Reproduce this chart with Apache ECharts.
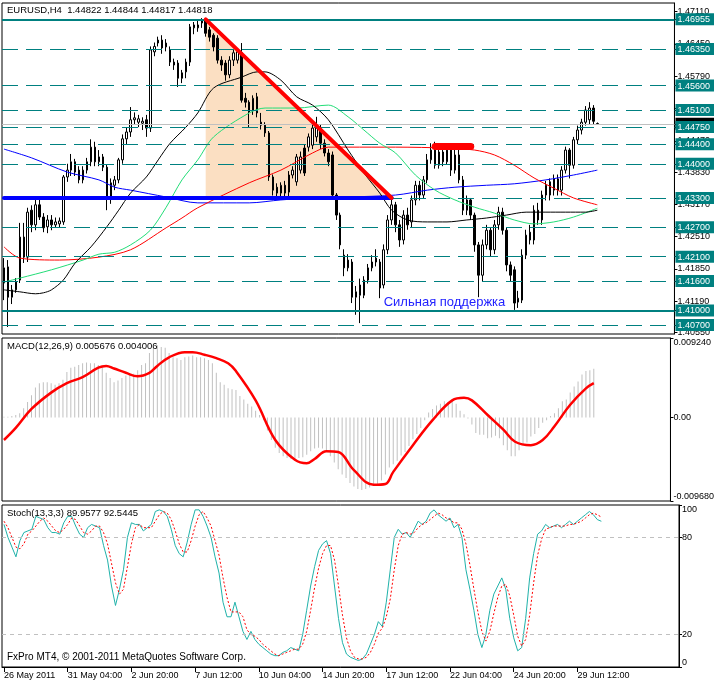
<!DOCTYPE html>
<html><head><meta charset="utf-8">
<script src="https://cdn.jsdelivr.net/npm/echarts@6/dist/echarts.min.js"></script>
<style>html,body{margin:0;padding:0;background:#fff}#c{width:717px;height:684px}</style>
</head><body><div id="c"></div>
<script>
const FONT = 'Liberation Sans';
const headerText = 'EURUSD,H4  1.44822 1.44844 1.44817 1.44818';
const macdText = 'MACD(12,26,9) 0.005676 0.004006';
const stochText = 'Stoch(13,3,3) 89.9577 92.5445';
const copyText = 'FxPro MT4, \u00a9 2001-2011 MetaQuotes Software Corp.';
const supportText = 'Сильная поддержка';

const barCount = 170;
const timeTickIdx = [0,16,32,48,64,80,96,112,128,144];
const timeTickLabels = ['26 May 2011','31 May 04:00','2 Jun 20:00','7 Jun 12:00','10 Jun 04:00','14 Jun 20:00','17 Jun 12:00','22 Jun 04:00','24 Jun 20:00','29 Jun 12:00'];

const priceMin = 1.40517, priceMax = 1.47289;
const priceTicks = [1.4711,1.4645,1.4579,1.4513,1.4447,1.4383,1.4317,1.4251,1.4185,1.4119,1.4055];
const levelsSolid = [1.46955, 1.41000];
const levelsDashed = [1.46350,1.45600,1.45100,1.44750,1.44400,1.44000,1.43300,1.42700,1.42100,1.41600,1.40700];
const bidPrice = 1.44818;
const levelLabelOrder = [1.46955,1.46350,1.45600,1.45100,1.44818,1.44750,1.44400,1.44000,1.43300,1.42700,1.42100,1.41600,1.41000,1.40700];

const macdMin = -0.00968, macdMax = 0.00924;
const macdTicks = [-0.00968, 0, 0.00924];
const macdTickLabels = ['-0.009680','0.00','0.009240'];
const stochTicks = [0,20,80,100];
const stochLevels = [20,80];

// [open, close, low, high]
const candles = [
[1.4156,1.4187,1.4121,1.4207],[1.4189,1.4127,1.4066,1.4203],[1.4127,1.4142,1.4113,1.4152],[1.4142,1.4158,1.4136,1.4166],
[1.4162,1.4250,1.4156,1.4279],[1.4250,1.4209,1.4197,1.4279],[1.4209,1.4301,1.4199,1.4310],[1.4305,1.4275,1.4260,1.4315],
[1.4275,1.4316,1.4264,1.4326],[1.4316,1.4291,1.4285,1.4330],[1.4291,1.4269,1.4260,1.4299],[1.4271,1.4285,1.4258,1.4295],
[1.4285,1.4275,1.4264,1.4295],[1.4275,1.4281,1.4269,1.4290],[1.4277,1.4283,1.4270,1.4290],[1.4281,1.4373,1.4275,1.4377],
[1.4373,1.4387,1.4363,1.4400],[1.4387,1.4404,1.4375,1.4420],[1.4404,1.4383,1.4375,1.4410],[1.4387,1.4367,1.4360,1.4395],
[1.4367,1.4387,1.4360,1.4395],[1.4387,1.4404,1.4380,1.4412],[1.4404,1.4434,1.4395,1.4450],[1.4434,1.4404,1.4395,1.4445],
[1.4404,1.4414,1.4395,1.4428],[1.4414,1.4393,1.4385,1.4420],[1.4393,1.4328,1.4305,1.4398],[1.4328,1.4361,1.4318,1.4370],
[1.4356,1.4367,1.4346,1.4375],[1.4367,1.4408,1.4360,1.4412],[1.4408,1.4451,1.4400,1.4460],[1.4451,1.4465,1.4440,1.4475],
[1.4465,1.4490,1.4455,1.4516],[1.4490,1.4494,1.4480,1.4505],[1.4485,1.4492,1.4475,1.4500],[1.4483,1.4487,1.4469,1.4495],
[1.4490,1.4473,1.4455,1.4500],[1.4473,1.4633,1.4465,1.4640],[1.4629,1.4640,1.4620,1.4648],[1.4653,1.4647,1.4640,1.4660],
[1.4653,1.4637,1.4625,1.4663],[1.4639,1.4647,1.4630,1.4655],[1.4633,1.4608,1.4600,1.4640],[1.4608,1.4602,1.4592,1.4615],
[1.4606,1.4575,1.4557,1.4612],[1.4586,1.4575,1.4565,1.4592],[1.4588,1.4608,1.4575,1.4615],[1.4608,1.4680,1.4600,1.4686],
[1.4678,1.4684,1.4665,1.4690],[1.4678,1.4684,1.4670,1.4694],[1.4688,1.4694,1.4678,1.4698],[1.4694,1.4667,1.4660,1.4698],
[1.4674,1.4659,1.4650,1.4680],[1.4663,1.4639,1.4630,1.4667],[1.4657,1.4612,1.4605,1.4663],[1.4612,1.4602,1.4590,1.4620],
[1.4606,1.4582,1.4570,1.4612],[1.4582,1.4612,1.4575,1.4620],[1.4612,1.4627,1.4600,1.4633],[1.4612,1.4629,1.4605,1.4635],
[1.4627,1.4530,1.4525,1.4647],[1.4534,1.4526,1.4515,1.4545],[1.4526,1.4506,1.4475,1.4530],[1.4510,1.4534,1.4500,1.4540],
[1.4537,1.4504,1.4495,1.4545],[1.4485,1.4479,1.4470,1.4504],[1.4479,1.4463,1.4455,1.4485],[1.4463,1.4373,1.4365,1.4467],
[1.4373,1.4346,1.4335,1.4378],[1.4352,1.4340,1.4328,1.4360],[1.4340,1.4356,1.4330,1.4362],[1.4356,1.4340,1.4328,1.4365],
[1.4342,1.4377,1.4330,1.4385],[1.4377,1.4387,1.4370,1.4395],[1.4363,1.4414,1.4355,1.4420],[1.4387,1.4414,1.4380,1.4425],
[1.4432,1.4381,1.4375,1.4440],[1.4434,1.4455,1.4425,1.4462],[1.4438,1.4473,1.4430,1.4480],[1.4455,1.4473,1.4445,1.4496],
[1.4469,1.4442,1.4430,1.4480],[1.4442,1.4422,1.4415,1.4450],[1.4422,1.4404,1.4395,1.4430],[1.4418,1.4336,1.4330,1.4425],
[1.4336,1.4295,1.4285,1.4340],[1.4295,1.4234,1.4225,1.4300],[1.4213,1.4187,1.4170,1.4225],[1.4187,1.4203,1.4180,1.4215],
[1.4199,1.4127,1.4115,1.4205],[1.4127,1.4138,1.4091,1.4150],[1.4131,1.4152,1.4074,1.4165],[1.4131,1.4162,1.4125,1.4170],
[1.4162,1.4187,1.4155,1.4195],[1.4187,1.4199,1.4180,1.4213],[1.4199,1.4207,1.4190,1.4225],[1.4199,1.4146,1.4125,1.4205],
[1.4152,1.4224,1.4145,1.4235],[1.4224,1.4285,1.4215,1.4295],[1.4285,1.4316,1.4275,1.4326],[1.4316,1.4275,1.4260,1.4322],
[1.4275,1.4244,1.4230,1.4285],[1.4244,1.4295,1.4235,1.4305],[1.4295,1.4275,1.4265,1.4310],[1.4281,1.4326,1.4270,1.4335],
[1.4326,1.4356,1.4315,1.4365],[1.4356,1.4336,1.4325,1.4365],[1.4336,1.4367,1.4330,1.4375],[1.4367,1.4408,1.4360,1.4420],
[1.4408,1.4428,1.4400,1.4442],[1.4428,1.4397,1.4390,1.4445],[1.4397,1.4424,1.4390,1.4440],[1.4424,1.4404,1.4395,1.4442],
[1.4404,1.4428,1.4398,1.4440],[1.4428,1.4387,1.4375,1.4442],[1.4387,1.4418,1.4380,1.4440],[1.4418,1.4367,1.4360,1.4440],
[1.4367,1.4305,1.4295,1.4375],[1.4305,1.4326,1.4295,1.4335],[1.4326,1.4295,1.4285,1.4330],[1.4295,1.4234,1.4220,1.4300],
[1.4234,1.4172,1.4127,1.4240],[1.4172,1.4234,1.4160,1.4245],[1.4234,1.4264,1.4225,1.4275],[1.4264,1.4224,1.4210,1.4270],
[1.4224,1.4275,1.4215,1.4285],[1.4275,1.4301,1.4265,1.4312],[1.4301,1.4264,1.4255,1.4310],[1.4264,1.4193,1.4180,1.4270],
[1.4193,1.4172,1.4160,1.4200],[1.4183,1.4115,1.4101,1.4190],[1.4117,1.4125,1.4105,1.4140],[1.4121,1.4213,1.4115,1.4225],
[1.4213,1.4254,1.4205,1.4265],[1.4260,1.4244,1.4235,1.4275],[1.4244,1.4305,1.4235,1.4315],[1.4305,1.4285,1.4275,1.4320],
[1.4285,1.4336,1.4275,1.4345],[1.4336,1.4356,1.4325,1.4365],[1.4363,1.4336,1.4325,1.4370],[1.4346,1.4369,1.4335,1.4378],
[1.4369,1.4346,1.4335,1.4378],[1.4346,1.4387,1.4335,1.4395],[1.4387,1.4428,1.4380,1.4435],[1.4428,1.4397,1.4370,1.4432],
[1.4397,1.4449,1.4390,1.4455],[1.4449,1.4469,1.4440,1.4478],[1.4469,1.4485,1.4460,1.4492],[1.4485,1.4510,1.4478,1.4518],
[1.4490,1.4514,1.4480,1.4526],[1.4514,1.4487,1.4480,1.4520],[1.44822,1.44818,1.44817,1.44844]
];

const maBlack = [[0,1.4142],[4,1.4138],[8,1.4134],[10,1.4136],[12,1.4142],[15,1.4162],[18,1.4197],[22,1.4230],[26,1.4271],[29,1.4305],[32,1.4340],[36,1.4373],[39,1.4408],[42,1.4442],[46,1.4475],[49,1.4504],[53,1.4555],[60,1.4577],[64,1.4588],[66,1.4588],[70,1.4571],[74,1.4537],[78,1.4520],[82,1.4490],[87,1.4428],[91,1.4381],[95,1.4340],[98,1.4305],[102,1.4285],[107,1.4281],[112,1.4281],[117,1.4285],[122,1.4289],[127,1.4295],[132,1.4301],[137,1.4301],[142,1.4301],[147,1.4301],[150,1.4305]];
const maGreen = [[0,1.4158],[4,1.4166],[12,1.4183],[20,1.4203],[24,1.4215],[28,1.4219],[32,1.4234],[37,1.4264],[41,1.4311],[45,1.4367],[49,1.4408],[53,1.4455],[62,1.4504],[66,1.4514],[74,1.4514],[82,1.4520],[87,1.4496],[91,1.4469],[95,1.4442],[99,1.4422],[104,1.4377],[109,1.4346],[114,1.4326],[119,1.4311],[124,1.4299],[129,1.4285],[134,1.4277],[139,1.4281],[144,1.4291],[150,1.4309]];
const maRed = [[0,1.4230],[4,1.4207],[14,1.4203],[24,1.4209],[32,1.4224],[41,1.4269],[45,1.4289],[49,1.4310],[62,1.4361],[70,1.4387],[78,1.4422],[82,1.4434],[87,1.4434],[99,1.4434],[112,1.4432],[119,1.4428],[124,1.4418],[129,1.4397],[134,1.4371],[139,1.4350],[144,1.4330],[150,1.4316]];
const maBlue = [[0,1.4430],[7,1.4412],[16,1.4383],[24,1.4367],[28,1.4352],[32,1.4346],[41,1.4332],[49,1.4320],[62,1.4320],[70,1.4326],[78,1.4330],[87,1.4332],[99,1.4336],[107,1.4346],[114,1.4352],[122,1.4356],[129,1.4359],[137,1.4367],[144,1.4377],[150,1.4387]];

// drawn objects (bar index, price)
const triangleIdx = [51, 98];
const triangleTop = 1.46955, triangleBase = 1.4330;
const trendRed = [[51,1.46955],[98,1.4330]];
const trendBlue = [[0,1.4330],[98,1.4330]];
const zoneRed = [[109,1.4436],[118,1.4436]];
const supportAnchor = [96, 1.4117];

const macdMain = [
0.0001,0.0001,0.0002,0.0003,0.0005,0.0011,0.0018,0.0026,0.0035,0.0040,
0.0041,0.0041,0.0040,0.0038,0.0040,0.0044,0.0053,0.0058,0.0059,0.0061,
0.0063,0.0064,0.0063,0.0063,0.0061,0.0059,0.0052,0.0046,0.0041,0.0043,
0.0046,0.0049,0.0051,0.0051,0.0055,0.0061,0.0063,0.0075,0.0082,0.0084,
0.0082,0.0081,0.0075,0.0070,0.0069,0.0067,0.0070,0.0071,0.0072,0.0070,
0.0070,0.0069,0.0067,0.0063,0.0052,0.0041,0.0038,0.0034,0.0033,0.0032,
0.0025,0.0021,0.0016,0.0013,0.0008,0.0003,-0.0003,-0.0015,-0.0026,-0.0035,
-0.0041,-0.0045,-0.0047,-0.0048,-0.0049,-0.0047,-0.0046,-0.0043,-0.0039,-0.0036,
-0.0035,-0.0036,-0.0038,-0.0045,-0.0052,-0.0060,-0.0066,-0.0070,-0.0076,-0.0080,
-0.0083,-0.0084,-0.0083,-0.0081,-0.0078,-0.0077,-0.0073,-0.0066,-0.0058,-0.0054,
-0.0050,-0.0044,-0.0040,-0.0033,-0.0025,-0.0019,-0.0012,-0.0003,0.0006,0.0010,
0.0014,0.0016,0.0019,0.0018,0.0020,0.0016,0.0008,0.0004,-0.0001,-0.0008,
-0.0018,-0.0020,-0.0020,-0.0024,-0.0023,-0.0021,-0.0024,-0.0032,-0.0038,-0.0045,
-0.0045,-0.0038,-0.0032,-0.0029,-0.0022,-0.0019,-0.0012,-0.0006,-0.0003,0.0002,
0.0005,0.0011,0.0019,0.0021,0.0029,0.0036,0.0042,0.0050,0.0054,0.0055,
0.005676];
const macdSignal = [[0,-0.0026],[3,-0.0012],[7,0.0010],[12,0.0029],[16,0.0040],[20,0.0047],[24,0.0058],[26,0.0060],[28,0.0057],[31,0.0052],[34,0.0048],[37,0.0052],[39,0.0060],[42,0.0070],[46,0.0076],[48,0.0076],[51,0.0073],[54,0.0069],[57,0.0063],[59,0.0054],[64,0.0020],[69,-0.0026],[74,-0.0049],[77,-0.0053],[79,-0.0048],[82,-0.0039],[85,-0.0040],[89,-0.0061],[94,-0.0078],[97,-0.0077],[99,-0.0063],[104,-0.0032],[109,-0.0003],[114,0.0020],[117,0.0023],[119,0.0020],[123,0.0003],[127,-0.0014],[130,-0.0028],[134,-0.0032],[137,-0.0026],[140,-0.0010],[144,0.0015],[148,0.0034],[150,0.004006]];

const stochK = [
88,80,74,68,78,83,84,85,93,92,
91,86,83,83,82,89,93,93,87,82,
80,86,88,87,86,75,66,50,38,48,
60,80,89,88,88,84,86,88,96,97,
96,93,85,75,70,68,77,88,97,97,
93,87,80,68,58,40,31,31,40,31,
22,17,22,17,14,12,10,8,7,7,
9,10,12,11,10,20,35,50,62,72,
76,78,70,50,30,15,8,6,5,4,
5,8,14,20,28,25,40,60,80,85,
82,83,80,85,90,88,90,95,97,94,
92,90,92,86,88,80,60,48,35,20,
12,20,35,45,50,55,48,30,18,10,
12,30,55,70,82,84,88,86,87,88,
86,88,90,88,90,92,94,96,94,91,
89.9577];
const stochD = [
90,86,80,74,73,76,82,84,87,90,
92,90,87,84,83,85,88,92,91,87,
83,82,84,87,87,83,76,64,52,45,
48,62,76,86,88,86,86,86,90,94,
96,95,91,84,76,71,71,78,87,94,
96,92,87,78,69,55,43,34,34,34,
31,23,20,19,17,14,12,10,8,7,
8,9,10,11,11,14,22,35,49,61,
70,75,75,66,50,32,18,10,6,5,
5,6,9,14,21,24,31,42,60,75,
82,83,82,83,86,88,89,91,93,95,
94,92,91,89,89,85,76,63,48,34,
22,16,22,33,43,50,51,44,32,19,
13,17,32,52,69,79,85,86,87,87,
87,87,88,88,89,90,92,94,95,94,
92.5445];

const categories = Array.from({length: barCount}, (_, i) => String(i));
const TEAL = '#008080';

const chart = echarts.init(document.getElementById('c'), null, {renderer: 'canvas'});

const lbl = {fontFamily: FONT, fontSize: 9, color: '#000'};
function levelItem(v, solid) {
  return {yAxis: v, label: {show: false},
    lineStyle: {color: TEAL, width: solid ? 2 : 1, type: solid ? 'solid' : [16, 8]}};
}
const segStyle = (color, width) => ({color, width, type: 'solid', cap: 'round'});
function seg(pts, color, width) {
  return [{coord: pts[0], lineStyle: segStyle(color, width), label: {show: false}},
          {coord: pts[1], lineStyle: segStyle(color, width), label: {show: false}}];
}

const markData = [];
markData.push({yAxis: bidPrice, label: {show: false}, lineStyle: {color: '#C0C0C0', width: 1, type: 'solid'}});
levelsSolid.forEach(v => markData.push(levelItem(v, true)));
levelsDashed.forEach(v => markData.push(levelItem(v, false)));
markData.push(seg(trendBlue, '#0000FF', 4));
markData.push(seg(trendRed, '#FF0000', 4));
markData.push(seg(zoneRed, '#FF0000', 7));

function xAxisFor(g) {
  const last = g === 2;
  return {type: 'category', gridIndex: g, data: categories, boundaryGap: true,
    axisLine: {show: last, lineStyle: {color: '#000'}},
    axisTick: {show: last, alignWithLabel: true, length: 5, interval: (i) => timeTickIdx.includes(i), lineStyle: {color: '#000'}},
    axisLabel: {show: last, interval: (i) => timeTickIdx.includes(i), align: 'left', margin: 4,
      formatter: (v, i) => { const k = timeTickIdx.indexOf(Number(v)); return k >= 0 ? timeTickLabels[k] : ''; }, ...lbl},
    splitLine: {show: false}};
}
const boxRich = {
  t: {backgroundColor: TEAL, color: '#fff', padding: [2, 4, 1, 2], fontFamily: FONT, fontSize: 9},
  b: {backgroundColor: '#000', color: '#fff', padding: [2, 4, 1, 2], fontFamily: FONT, fontSize: 9}
};

const option = {
  animation: false,
  backgroundColor: '#fff',
  grid: [
    {left: 2, top: 3, width: 677, height: 331, show: true, borderColor: '#000', borderWidth: 1},
    {left: 2, top: 338, width: 677, height: 163, show: true, borderColor: '#000', borderWidth: 1},
    {left: 2, top: 505, width: 677, height: 162, show: true, borderColor: '#000', borderWidth: 1}
  ],
  xAxis: [xAxisFor(0), xAxisFor(1), xAxisFor(2)],
  yAxis: [
    {type: 'value', gridIndex: 0, position: 'right', min: priceMin, max: priceMax,
      axisLine: {show: true, lineStyle: {color: '#000'}},
      axisTick: {show: true, length: 3, customValues: priceTicks, lineStyle: {color: '#000'}},
      axisLabel: {customValues: priceTicks, formatter: v => v.toFixed(5), margin: 3, ...lbl},
      splitLine: {show: false}},
    {type: 'value', gridIndex: 1, position: 'right', min: macdMin, max: macdMax,
      axisLine: {show: true, lineStyle: {color: '#000'}},
      axisTick: {show: true, length: 3, customValues: macdTicks, lineStyle: {color: '#000'}},
      axisLabel: {customValues: macdTicks, margin: 3, verticalAlignMaxLabel: 'top', verticalAlignMinLabel: 'bottom',
        formatter: v => { let best = 0; macdTicks.forEach((t, k) => { if (Math.abs(t - v) < Math.abs(macdTicks[best] - v)) best = k; }); return macdTickLabels[best]; }, ...lbl},
      splitLine: {show: false}},
    {type: 'value', gridIndex: 2, position: 'right', min: 0, max: 100,
      axisLine: {show: true, lineStyle: {color: '#000'}},
      axisTick: {show: true, length: 3, customValues: stochTicks, lineStyle: {color: '#000'}},
      axisLabel: {customValues: stochTicks, margin: 3, verticalAlignMaxLabel: 'top', verticalAlignMinLabel: 'bottom',
        formatter: v => String(Math.round(v)), ...lbl},
      splitLine: {show: false}},
    {type: 'value', gridIndex: 0, position: 'right', offset: 0, min: priceMin, max: priceMax,
      axisLine: {show: false},
      axisTick: {show: true, length: 2, customValues: levelLabelOrder, lineStyle: {color: '#000'}},
      axisLabel: {customValues: levelLabelOrder, margin: 1, hideOverlap: false,
        formatter: v => (Math.abs(v - bidPrice) < 1e-7 ? '{b|' : '{t|') + v.toFixed(5) + '}', rich: boxRich},
      splitLine: {show: false}}
  ],
  graphic: [
    {type: 'text', x: 7, y: 5, z: 100, style: {text: headerText, fontFamily: FONT, fontSize: 9.5, fill: '#000', verticalAlign: 'top'}},
    {type: 'text', x: 7, y: 341, z: 100, style: {text: macdText, fontFamily: FONT, fontSize: 9.5, fill: '#000', verticalAlign: 'top'}},
    {type: 'text', x: 7, y: 508, z: 100, style: {text: stochText, fontFamily: FONT, fontSize: 9.5, fill: '#000', verticalAlign: 'top'}},
    {type: 'text', x: 7, y: 652, z: 100, style: {text: copyText, fontFamily: FONT, fontSize: 10, fill: '#000', verticalAlign: 'top'}}
  ],
  series: [
    {type: 'custom', xAxisIndex: 0, yAxisIndex: 0, z: 0, silent: true, clip: true,
      data: [[triangleIdx[0], triangleTop, triangleIdx[1], triangleBase]],
      renderItem: (p, api) => {
        const a = api.coord([api.value(0), api.value(1)]);
        const b = api.coord([api.value(2), api.value(3)]);
        const c = api.coord([api.value(0), api.value(3)]);
        return {type: 'polygon', shape: {points: [a, b, c]}, style: {fill: '#FBDFC2'}};
      }},
    {type: 'candlestick', xAxisIndex: 0, yAxisIndex: 0, data: candles, barWidth: 2, z: 3, clip: false,
      itemStyle: {color: '#fff', color0: '#000', borderColor: '#000', borderColor0: '#000', borderWidth: 1},
      markLine: {silent: true, symbol: ['none', 'none'], animation: false, precision: 5, label: {show: false}, data: markData},
      markPoint: {silent: true, animation: false, data: [{coord: supportAnchor, symbol: 'circle', symbolSize: 0,
        label: {show: true, position: 'right', distance: 0, formatter: supportText, color: '#2222FF', fontFamily: FONT, fontSize: 13}}]}},
    {type: 'line', xAxisIndex: 0, yAxisIndex: 0, data: maBlue, showSymbol: false, smooth: 0.3, z: 4, lineStyle: {color: '#0000FF', width: 1}},
    {type: 'line', xAxisIndex: 0, yAxisIndex: 0, data: maRed, showSymbol: false, smooth: 0.3, z: 4, lineStyle: {color: '#FF0000', width: 1}},
    {type: 'line', xAxisIndex: 0, yAxisIndex: 0, data: maGreen, showSymbol: false, smooth: 0.3, z: 4, lineStyle: {color: '#22DD77', width: 1}},
    {type: 'line', xAxisIndex: 0, yAxisIndex: 0, data: maBlack, showSymbol: false, smooth: 0.3, z: 4, lineStyle: {color: '#000', width: 1}},
    {type: 'bar', xAxisIndex: 1, yAxisIndex: 1, data: macdMain, barWidth: 1, z: 2, itemStyle: {color: '#C0C0C0'}},
    {type: 'line', xAxisIndex: 1, yAxisIndex: 1, data: macdSignal, showSymbol: false, smooth: 0.4, z: 3, lineStyle: {color: '#FF0000', width: 2.5}},
    {type: 'line', xAxisIndex: 2, yAxisIndex: 2, data: stochK, showSymbol: false, z: 3, lineStyle: {color: '#20B2AA', width: 1},
      markLine: {silent: true, symbol: ['none', 'none'], animation: false, precision: 2, label: {show: false},
        lineStyle: {color: '#C0C0C0', type: [4, 4], width: 1}, data: stochLevels.map(v => ({yAxis: v}))}},
    {type: 'line', xAxisIndex: 2, yAxisIndex: 2, data: stochD, showSymbol: false, z: 3, lineStyle: {color: '#FF0000', width: 1, type: [2, 2]}}
  ]
};
chart.setOption(option);
</script></body></html>
